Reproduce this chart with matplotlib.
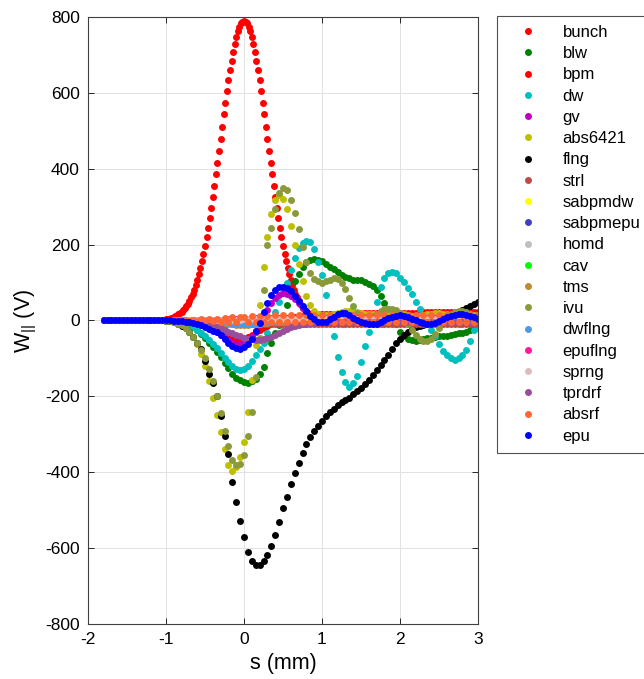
import matplotlib.pyplot as plt

plt.rcParams['font.family'] = ['Liberation Sans', 'DejaVu Sans']
plt.rcParams['mathtext.fontset'] = 'custom'
plt.rcParams['mathtext.rm'] = 'Liberation Sans'
plt.rcParams['axes.unicode_minus'] = False

# sample positions s (mm) used by the element wakes
S = [-1.80, -1.75, -1.70, -1.65, -1.60, -1.55, -1.50, -1.45, -1.40, -1.35, -1.30, -1.25, -1.20, -1.15, -1.10, -1.05,
     -1.00, -0.95, -0.90, -0.85, -0.80, -0.75, -0.70, -0.65, -0.60, -0.55, -0.50, -0.45, -0.40, -0.35, -0.30, -0.25, -0.20, -0.15, -0.10, -0.05,
     0.00, 0.05, 0.10, 0.15, 0.20, 0.25, 0.30, 0.35, 0.40, 0.45, 0.50, 0.55, 0.60, 0.65, 0.70, 0.75, 0.80, 0.85, 0.90, 0.95,
     1.00, 1.05, 1.10, 1.15, 1.20, 1.25, 1.30, 1.35, 1.40, 1.45, 1.50, 1.55, 1.60, 1.65, 1.70, 1.75, 1.80, 1.85, 1.90, 1.95,
     2.00, 2.05, 2.10, 2.15, 2.20, 2.25, 2.30, 2.35, 2.40, 2.45, 2.50, 2.55, 2.60, 2.65, 2.70, 2.75, 2.80, 2.85, 2.90, 2.95, 3.00]

# the bunch profile is sampled more finely
S_BUNCH = [-1.20, -1.18, -1.16, -1.14, -1.12, -1.10, -1.08, -1.06, -1.04, -1.02,
           -1.00, -0.98, -0.96, -0.94, -0.92, -0.90, -0.88, -0.86, -0.84, -0.82,
           -0.80, -0.78, -0.76, -0.74, -0.72, -0.70, -0.68, -0.66, -0.64, -0.62,
           -0.60, -0.58, -0.56, -0.54, -0.52, -0.50, -0.48, -0.46, -0.44, -0.42,
           -0.40, -0.38, -0.36, -0.34, -0.32, -0.30, -0.28, -0.26, -0.24, -0.22,
           -0.20, -0.18, -0.16, -0.14, -0.12, -0.10, -0.08, -0.06, -0.04, -0.02,
           0.00,
           0.02, 0.04, 0.06, 0.08, 0.10, 0.12, 0.14, 0.16, 0.18, 0.20,
           0.22, 0.24, 0.26, 0.28, 0.30, 0.32, 0.34, 0.36, 0.38, 0.40,
           0.42, 0.44, 0.46, 0.48, 0.50, 0.52, 0.54, 0.56, 0.58, 0.60,
           0.62, 0.64, 0.66, 0.68, 0.70, 0.72, 0.74, 0.76, 0.78, 0.80,
           0.82, 0.84, 0.86, 0.88, 0.90, 0.92, 0.94, 0.96, 0.98, 1.00,
           1.02, 1.04, 1.06, 1.08, 1.10, 1.12, 1.14, 1.16, 1.18, 1.20]
bunch = [0, 0, 0, 1, 1, 1, 1, 2, 2, 2,
         3, 4, 5, 6, 7, 9, 11, 13, 16, 19,
         23, 27, 32, 38, 44, 52, 61, 70, 81, 93,
         107, 122, 138, 156, 176, 197, 220, 244, 269, 297,
         325, 354, 385, 416, 447, 479, 511, 543, 574, 604,
         633, 660, 685, 708, 729, 747, 762, 774, 783, 788,
         790,
         788, 783, 774, 762, 747, 729, 708, 685, 660, 633,
         604, 574, 543, 511, 479, 447, 416, 385, 354, 325,
         297, 269, 244, 220, 197, 176, 156, 138, 122, 107,
         93, 81, 70, 61, 52, 44, 38, 32, 27, 23,
         19, 16, 13, 11, 9, 7, 6, 5, 4, 3,
         2, 2, 2, 1, 1, 1, 1, 0, 0, 0]

# wake potentials W|| (V), one list per element, on grid S
blw = [0, 0, 0, 0, 0, 0, 0, 0, 0, 0, 0, 0, 0, 0, 0, 0,
       -1, -2, -3, -5, -7, -10, -13, -18, -25, -36, -47, -58, -70, -83, -97, -112, -126, -140, -151, -158,
       -162, -165, -160, -155, -142, -122, -85, -60, -34, -12, 10, 40, 80, 105, 122, 140, 153, 160, 162, 160,
       157, 150, 142, 135, 128, 120, 115, 111, 108, 107, 106, 102, 97, 90, 80, 64, 47, 29, 10, -10,
       -30, -42, -49, -52, -53, -52, -50, -47, -45, -43, -42, -41, -40, -38, -36, -34, -32, -29, -25, -17, -8]
bpm = [0, 0, 0, 0, 0, 0, 0, 0, 0, 0, 0, 0, 0, 0, 0, 0,
       0, 0, -1, -1, -2, -3, -4, -6, -8, -11, -14, -18, -23, -28, -34, -40, -45, -49, -51, -51,
       -48, -43, -37, -31, -25, -20, -15, -10, -5, -1, 2, 5, 8, 10, 12, 13, 14, 15, 15, 16,
       16, 16, 17, 17, 17, 18, 18, 18, 18, 19, 19, 19, 19, 20, 20, 20, 20, 20, 21, 21,
       21, 21, 21, 21, 21, 22, 22, 22, 22, 22, 22, 22, 22, 22, 22, 22, 22, 22, 22, 22, 22]
dw = [0, 0, 0, 0, 0, 0, 0, 0, 0, 0, 0, 0, 0, 0, 0, 0,
      0, -1, -2, -3, -5, -8, -12, -17, -24, -32, -42, -52, -62, -72, -86, -100, -110, -120, -127, -130,
      -128, -120, -108, -92, -76, -58, -33, -5, 22, 48, 73, 100, 132, 165, 192, 205, 210, 206, 188, 155,
      119, 68, 12, -42, -95, -137, -163, -176, -166, -145, -110, -68, -30, 12, 50, 88, 113, 124, 128, 124,
      113, 101, 86, 70, 50, 30, 10, -8, -25, -42, -62, -80, -91, -99, -103, -98, -90, -77, -55, -25, -12]
gv = [0, 0, 0, 0, 0, 0, 0, 0, 0, 0, 0, 0, 0, 0, 0, 0,
      0, 0, -1, -1, -2, -2, -3, -5, -7, -10, -14, -19, -25, -31, -38, -45, -52, -58, -61, -62,
      -58, -50, -40, -28, -10, 9, 27, 45, 58, 67, 72, 71, 65, 56, 45, 33, 22, 12, 5, 0,
      -2, -1, 2, 6, 9, 10, 9, 6, 3, 0, -2, -3, -3, -2, 0, 2, 4, 6, 7, 7,
      6, 5, 3, 1, 0, -1, -1, 0, 1, 3, 4, 5, 6, 6, 6, 5, 4, 4, 3, 3, 3]
abs6421 = [0, 0, 0, 0, 0, 0, 0, 0, 0, 0, 0, 0, 0, 0, 0, 0,
           -1, -2, -4, -8, -13, -21, -31, -44, -62, -88, -120, -160, -205, -250, -295, -340, -380, -396, -385, -360,
           -320, -240, -157, -65, 40, 140, 220, 280, 318, 332, 320, 295, 250, 200, 150, 105, 65, 40, 25, 18,
           15, 14, 15, 17, 20, 23, 25, 26, 25, 23, 20, 18, 17, 17, 18, 20, 22, 23, 23, 22,
           20, 17, 14, 12, 11, 12, 14, 16, 18, 19, 19, 18, 16, 15, 14, 14, 15, 16, 16, 15, 14]
flng = [0, 0, 0, 0, 0, 0, 0, 0, 0, 0, 0, 0, 0, 0, 0, 0,
        -1, -2, -4, -8, -14, -21, -30, -43, -58, -75, -108, -140, -165, -200, -252, -305, -353, -425, -478, -528,
        -570, -610, -633, -644, -645, -635, -617, -594, -565, -532, -495, -465, -432, -401, -376, -349, -325, -306, -290, -277,
        -265, -252, -240, -232, -224, -216, -210, -203, -195, -186, -177, -167, -156, -143, -131, -118, -104, -90, -75, -60,
        -48, -38, -30, -23, -18, -14, -11, -8, -5, -2, 1, 5, 9, 13, 18, 23, 28, 33, 38, 44, 49]
strl = [0, 0, 0, 0, 0, 0, 0, 0, 0, 0, 0, 0, 0, 0, 0, 0,
        0, 0, 0, 0, 0, -1, -1, -1, -2, -2, -3, -3, -4, -5, -5, -6, -7, -8, -8, -9,
        -9, -10, -10, -10, -10, -10, -10, -10, -10, -10, -10, -10, -10, -10, -10, -10, -10, -10, -10, -10,
        -10, -10, -10, -10, -10, -10, -10, -10, -10, -10, -10, -10, -10, -10, -10, -10, -10, -10, -10, -10,
        -10, -10, -10, -10, -10, -10, -10, -10, -10, -10, -10, -10, -10, -10, -10, -10, -10, -10, -10, -10, -10]
sabpmdw = [0, 0, 0, 0, 0, 0, 0, 0, 0, 0, 0, 0, 0, 0, 0, 0,
           0, 0, 0, 0, 0, 0, 0, 0, 1, 1, 1, 1, 2, 2, 2, 3, 3, 3, 4, 4,
           4, 5, 5, 5, 6, 6, 6, 6, 6, 6, 6, 6, 6, 6, 6, 6, 6, 6, 6, 6,
           6, 6, 6, 6, 6, 6, 6, 6, 6, 6, 6, 6, 6, 6, 6, 6, 6, 6, 6, 6,
           6, 6, 6, 6, 6, 6, 6, 6, 6, 6, 6, 6, 6, 6, 6, 6, 6, 6, 6, 6, 6]
sabpmepu = [0, 0, 0, 0, 0, 0, 0, 0, 0, 0, 0, 0, 0, 0, 0, 0,
            0, 0, 0, 0, 0, 0, 0, 0, 0, 0, -1, -1, -1, -1, -2, -2, -2, -3, -3, -3,
            -3, -3, -3, -2, -2, -2, -2, -2, -2, -2, -2, -2, -2, -2, -2, -2, -2, -2, -2, -2,
            -2, -2, -2, -2, -2, -2, -2, -2, -2, -2, -2, -2, -2, -2, -2, -2, -2, -2, -2, -2,
            -2, -2, -2, -2, -2, -2, -2, -2, -2, -2, -2, -2, -2, -2, -2, -2, -2, -2, -2, -2, -2]
homd = [0, 0, 0, 0, 0, 0, 0, 0, 0, 0, 0, 0, 0, 0, 0, 0,
        0, 0, 0, 0, 0, 0, 0, 0, -1, -1, -2, -2, -3, -4, -5, -6, -7, -7, -8, -8,
        -8, -7, -6, -5, -4, -3, -2, -2, -1, -1, -1, 0, 0, 0, 0, 0, 0, 0, 0, 0,
        0, 0, 0, 0, 0, 0, 0, 0, 0, 0, 0, 0, 0, 0, 0, 0, 0, 0, 0, 0,
        0, 0, 0, 0, 0, 0, 0, 0, 0, 0, 0, 0, 0, 0, 0, 0, 0, 0, 0, 0, 0]
cav = [0, 0, 0, 0, 0, 0, 0, 0, 0, 0, 0, 0, 0, 0, 0, 0,
       0, 0, 0, 0, 0, 0, 0, 0, 0, 0, 0, -1, -1, -1, -2, -2, -3, -3, -4, -4,
       -4, -4, -3, -3, -2, -2, -1, -1, 0, 0, 0, 0, 0, 0, 0, 0, 0, 0, 0, 0,
       0, 0, 0, 0, 0, 0, 0, 0, 0, 0, 0, 0, 0, 0, 0, 0, 0, 0, 0, 0,
       0, 0, 0, 0, 0, 0, 0, 0, 0, 0, 0, 0, 0, 0, 0, 0, 0, 0, 0, 0, 0]
tms = [0, 0, 0, 0, 0, 0, 0, 0, 0, 0, 0, 0, 0, 0, 0, 0,
       0, 0, 0, 0, -1, -1, -1, -2, -2, -3, -3, -4, -5, -6, -7, -8, -9, -10, -11, -11,
       -11, -11, -10, -9, -8, -7, -6, -5, -4, -3, -3, -2, -2, -2, -1, -1, -1, -1, -1, -1,
       -1, -1, -1, -1, -1, -1, -1, -1, -1, -1, -1, -1, -1, -1, -1, -1, -1, -1, -1, -1,
       -1, -1, -1, -1, -1, -1, -1, -1, -1, -1, -1, -1, -1, -1, -1, -1, -1, -1, -1, -1, -1]
ivu = [0, 0, 0, 0, 0, 0, 0, 0, 0, 0, 0, 0, 0, 0, 0, 0,
       -1, -2, -4, -8, -13, -20, -29, -43, -58, -78, -100, -128, -160, -200, -243, -290, -330, -368, -382, -378,
       -355, -305, -240, -150, -45, 80, 200, 245, 295, 335, 350, 345, 318, 283, 240, 195, 155, 125, 110, 103,
       100, 103, 108, 112, 110, 100, 82, 60, 38, 20, 12, 8, 8, 12, 18, 25, 29, 30, 30, 27,
       20, 8, -8, -24, -38, -48, -54, -55, -48, -35, -20, -3, 10, 18, 23, 26, 26, 22, 16, 8, 0]
dwflng = [0, 0, 0, 0, 0, 0, 0, 0, 0, 0, 0, 0, 0, 0, 0, 0,
          0, 0, 0, 0, 0, 0, 0, 0, 0, -1, -1, -2, -2, -3, -4, -5, -6, -7, -8, -9,
          -10, -10, -9, -8, -6, -4, -3, -2, -1, 0, 0, 1, 1, 1, 1, 1, 1, 1, 1, 1,
          1, 1, 1, 1, 1, 1, 1, 1, 1, 1, 1, 1, 1, 1, 1, 1, 1, 1, 1, 1,
          1, 1, 1, 1, 1, 1, 1, 1, 1, 1, 1, 1, 1, 1, 1, 1, 1, 1, 1, 1, 1]
epuflng = [0, 0, 0, 0, 0, 0, 0, 0, 0, 0, 0, 0, 0, 0, 0, 0,
           0, 0, 0, 0, 0, 0, 0, 0, 0, 0, 0, 1, 1, 1, 2, 2, 3, 3, 4, 4,
           5, 5, 6, 6, 7, 7, 7, 7, 7, 7, 7, 7, 7, 7, 7, 7, 7, 7, 7, 7,
           7, 7, 7, 7, 7, 7, 7, 7, 7, 7, 7, 7, 7, 7, 7, 7, 7, 7, 7, 7,
           7, 7, 7, 7, 7, 7, 7, 7, 7, 7, 7, 7, 7, 7, 7, 7, 7, 7, 7, 7, 7]
sprng = [0, 0, 0, 0, 0, 0, 0, 0, 0, 0, 0, 0, 0, 0, 0, 0,
         0, 0, 0, 0, 0, 0, 0, 0, 0, 0, 0, 0, 1, 1, 1, 1, 2, 2, 2, 2,
         3, 3, 3, 3, 3, 3, 3, 3, 3, 3, 3, 3, 3, 3, 3, 3, 3, 3, 3, 3,
         3, 3, 3, 3, 3, 3, 3, 3, 3, 3, 3, 3, 3, 3, 3, 3, 3, 3, 3, 3,
         3, 3, 3, 3, 3, 3, 3, 3, 3, 3, 3, 3, 3, 3, 3, 3, 3, 3, 3, 3, 3]
tprdrf = [0, 0, 0, 0, 0, 0, 0, 0, 0, 0, 0, 0, 0, 0, 0, 0,
          0, 0, 0, -1, -1, -1, -2, -2, -3, -4, -6, -9, -12, -16, -20, -25, -29, -34, -38, -42,
          -45, -48, -50, -51, -51, -49, -46, -43, -38, -33, -27, -23, -18, -15, -12, -10, -8, -7, -6, -5,
          -5, -5, -4, -4, -4, -4, -4, -4, -3, -3, -3, -3, -3, -3, -3, -3, -3, -3, -3, -3,
          -3, -3, -3, -3, -3, -3, -3, -3, -3, -3, -3, -3, -3, -3, -3, -3, -3, -3, -3, -3, -3]
absrf = [0, 0, 0, 0, 0, 0, 0, 0, 0, 0, 0, 0, 0, 0, 0, 0,
         0, 0, 0, 0, 0, 1, -1, 2, -1, 3, -2, 4, -2, 5, -3, 6, -3, 8, -4, 9,
         10, -4, 11, -4, 12, -5, 13, -5, 14, -5, 14, -5, 14, -5, 14, -5, 14, -5, 14, -5,
         14, -5, 14, -5, 14, -5, 14, -5, 14, -5, 14, -5, 14, -5, 14, -5, 14, -5, 14, -5,
         14, -5, 14, -5, 14, -5, 14, -5, 14, -5, 14, -5, 14, -5, 14, -5, 14, -5, 14, -5, 14]
epu = [0, 0, 0, 0, 0, 0, 0, 0, 0, 0, 0, 0, 0, 0, 0, 0,
       0, 0, -1, -1, -2, -3, -4, -6, -9, -13, -17, -22, -27, -31, -37, -48, -58, -66, -72, -74,
       -71, -63, -48, -28, -6, 22, 45, 68, 80, 88, 89, 86, 77, 65, 52, 38, 25, 12, 4, -3,
       -5, -3, 3, 10, 17, 21, 20, 14, 7, 1, -4, -7, -9, -10, -8, -4, 1, 6, 10, 13,
       14, 12, 9, 5, 1, -3, -6, -8, -8, -6, -2, 3, 8, 12, 15, 16, 16, 15, 13, 9, 5]

NAMES = ['bunch', 'blw', 'bpm', 'dw', 'gv', 'abs6421', 'flng', 'strl', 'sabpmdw', 'sabpmepu',
         'homd', 'cav', 'tms', 'ivu', 'dwflng', 'epuflng', 'sprng', 'tprdrf', 'absrf', 'epu']
SERIES = [bunch, blw, bpm, dw, gv, abs6421, flng, strl, sabpmdw, sabpmepu,
          homd, cav, tms, ivu, dwflng, epuflng, sprng, tprdrf, absrf, epu]
COLORS = ['#ff0000', '#008000', '#ff0000', '#00bfbf', '#bf00bf', '#bfbf00', '#000000', '#c04848',
          '#ffff00', '#4040bf', '#bfbfbf', '#00ff00', '#c08a30', '#8a9a3a', '#4d99e6', '#ff1a99',
          '#dbbdbd', '#9a4d9a', '#ff6633', '#0000ff']

fig = plt.figure(figsize=(6.44, 6.79), dpi=100)
ax = fig.add_axes([88 / 644, 1 - 624 / 679, 390 / 644, 607 / 679])

for name, vals, col in zip(NAMES, SERIES, COLORS):
    xs = S_BUNCH if name == 'bunch' else S
    ax.plot(xs, vals, 'o', ms=5.0, mew=0, color=col, label=name)

ax.set_xlim(-2, 3)
ax.set_ylim(-800, 800)
ax.set_xticks([-2, -1, 0, 1, 2, 3])
ax.set_yticks([-800, -600, -400, -200, 0, 200, 400, 600, 800])
ax.grid(True, color='#e2e2e2', lw=0.7)
ax.set_axisbelow(True)
ax.tick_params(direction='in', top=True, right=True, length=4, width=0.7,
               color='#262626', labelsize=12.5, pad=6)
for sp in ax.spines.values():
    sp.set_color('#404040')
    sp.set_linewidth(0.8)

ax.set_xlabel('s (mm)', fontsize=15.5, labelpad=4)
ax.set_ylabel(r'W$_{\mathrm{||}}$ (V)', fontsize=15.5, labelpad=4)

leg = fig.legend(loc='upper left', bbox_to_anchor=(496.7 / 644, 1 - 15.7 / 679), borderaxespad=0,
                 fontsize=12, frameon=True, fancybox=False, edgecolor='#262626', handlelength=2.62,
                 handletextpad=0.79, labelspacing=0.375, borderpad=0.55, numpoints=1)
leg.get_frame().set_linewidth(0.8)

plt.savefig('out.png', dpi=100)
